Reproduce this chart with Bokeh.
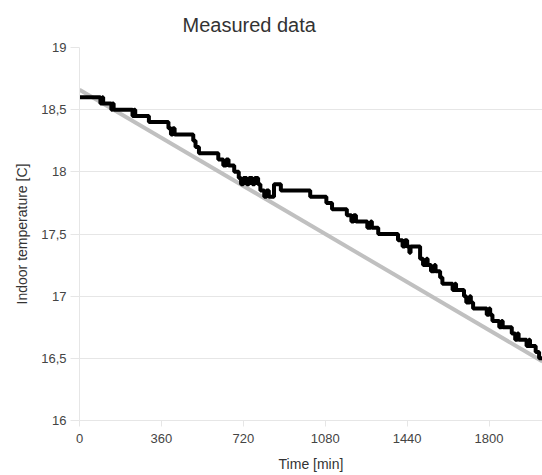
from bokeh.plotting import figure
from bokeh.models import FixedTicker, CustomJSTickFormatter, Range1d, ColumnDataSource
from bokeh.embed import file_html
from bokeh.resources import INLINE

# measured indoor temperature (step changes): time [min], temperature [C]
time_min = [0, 92, 100, 104, 140, 145, 150, 233, 240, 245, 305, 391, 402, 410, 418,
            500, 510, 525, 610, 632, 645, 655, 680, 700, 710, 720, 735, 745, 760, 770,
            785, 795, 812, 822, 832, 855, 885, 1014, 1085, 1110, 1175, 1195, 1205, 1215,
            1245, 1265, 1280, 1285, 1313, 1400, 1420, 1430, 1440, 1450, 1455, 1497, 1510,
            1525, 1530, 1545, 1560, 1565, 1585, 1595, 1640, 1650, 1655, 1690, 1700, 1715,
            1720, 1730, 1790, 1800, 1805, 1815, 1845, 1855, 1860, 1900, 1915, 1925, 1930,
            1965, 1975, 1980, 2005, 2020, 2035]
temp_c = [18.60, 18.55, 18.60, 18.55, 18.50, 18.55, 18.50, 18.45, 18.50, 18.45, 18.40,
          18.35, 18.30, 18.35, 18.30, 18.25, 18.20, 18.15, 18.10, 18.05, 18.10, 18.05,
          18.00, 17.95, 17.90, 17.95, 17.90, 17.95, 17.90, 17.95, 17.90, 17.85, 17.80,
          17.85, 17.80, 17.90, 17.85, 17.80, 17.75, 17.70, 17.65, 17.60, 17.65, 17.60,
          17.60, 17.55, 17.60, 17.55, 17.50, 17.45, 17.40, 17.45, 17.40, 17.35, 17.40,
          17.30, 17.25, 17.30, 17.25, 17.20, 17.25, 17.20, 17.15, 17.10, 17.05, 17.10,
          17.05, 17.00, 16.95, 17.00, 16.95, 16.90, 16.85, 16.90, 16.85, 16.80, 16.75,
          16.80, 16.75, 16.70, 16.65, 16.70, 16.65, 16.60, 16.65, 16.60, 16.55, 16.50,
          16.50]

# linear fit line endpoints
fit_time = [0, 2035]
fit_temp = [18.66, 16.475]

x_ticks = [0, 360, 720, 1080, 1440, 1800]
y_ticks = [16, 16.5, 17, 17.5, 18, 18.5, 19]

FONT = "Liberation Sans"

p = figure(width=542, height=475, output_backend="svg", toolbar_location=None,
           x_range=Range1d(0, 2035), y_range=Range1d(16, 19),
           min_border_left=79, min_border_right=0, min_border_top=47, min_border_bottom=55,
           title="Measured data")

p.title.text_font = FONT
p.title.text_font_size = "20px"
p.title.text_font_style = "normal"
p.title.text_color = "#333333"
p.title.align = "left"
p.title.offset = 103
p.title.standoff = 21
p.title.vertical_align = "middle"

p.outline_line_color = None
p.background_fill_color = "white"
p.border_fill_color = "white"

p.xgrid.grid_line_color = None
p.ygrid.grid_line_color = "#e6e6e6"
p.ygrid.grid_line_width = 1

p.xaxis.ticker = FixedTicker(ticks=x_ticks)
p.yaxis.ticker = FixedTicker(ticks=y_ticks)
p.yaxis.formatter = CustomJSTickFormatter(code="return tick.toString().replace('.', ',');")

for ax in (p.xaxis[0], p.yaxis[0]):
    ax.axis_line_color = "#e6e6e6"
    ax.major_tick_line_color = "#e6e6e6"
    ax.minor_tick_line_color = None
    ax.major_tick_in = 0
    ax.major_label_text_font = FONT
    ax.major_label_text_font_size = "13px"
    ax.major_label_text_color = "#444444"
    ax.axis_label_text_font = FONT
    ax.axis_label_text_font_size = "14px"
    ax.axis_label_text_font_style = "normal"
    ax.axis_label_text_color = "#333333"

p.xaxis.axis_label = "Time [min]"
p.yaxis.axis_label = "Indoor temperature [C]"
p.xaxis.major_tick_out = 6
p.yaxis.major_tick_out = 9
p.xaxis.major_label_standoff = 7
p.yaxis.major_label_standoff = 4
p.xaxis.axis_label_standoff = 10
p.yaxis.axis_label_standoff = 8

p.line(fit_time, fit_temp, line_color="#c0c0c0", line_width=4)
src = ColumnDataSource(dict(t=time_min, v=temp_c))
p.step("t", "v", source=src, mode="after", line_color="black", line_width=4)

open("out.html", "w").write(file_html(p, INLINE))
